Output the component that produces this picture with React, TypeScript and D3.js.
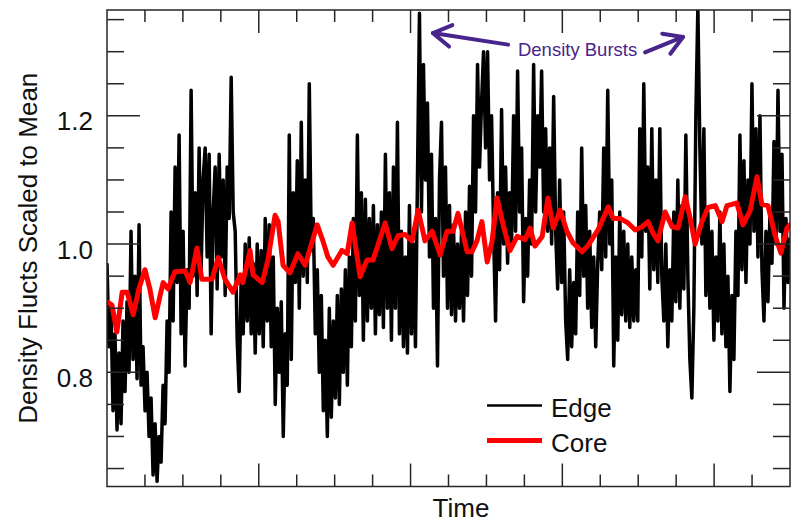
import React from "react";
import * as d3 from "d3";

// Edge density fluctuations (evenly sampled over the time axis 0..18)
const edgeValues: number[] = [
  0.97, 0.84, 0.90, 0.74, 0.86, 0.71, 0.83, 0.72, 0.88, 0.77, 0.91,
  0.80, 1.02, 0.82, 0.95, 0.79, 1.03,
  0.78, 0.84, 0.74, 0.80, 0.70, 0.76, 0.64, 0.72, 0.63, 0.70,
  0.66, 0.78, 0.72, 0.88, 0.80, 1.05,
  0.88, 1.12, 0.94, 1.17,
  0.86, 1.02, 0.81, 0.96,
  0.90, 1.24, 0.95,
  1.08, 0.92, 1.15, 0.96, 1.10, 1.15, 0.98, 1.14, 0.86, 1.05,
  1.12, 0.93, 1.14, 0.98, 1.10, 0.92, 1.12, 1.04,
  1.26, 1.05, 1.02,
  0.85, 0.77, 0.95, 0.86,
  1.00, 0.88, 1.01, 0.86, 0.97,
  0.83, 1.00, 0.86, 0.99, 0.84,
  1.04, 0.88, 1.03, 0.84, 0.98,
  0.75, 0.90, 0.80, 0.91,
  0.70, 0.86, 0.78, 1.17, 0.82,
  1.08, 0.94, 1.13, 0.90, 1.19,
  0.95, 1.10, 0.94, 1.25, 0.99,
  1.04, 0.86, 0.96, 0.80, 0.92, 0.74,
  0.85, 0.70, 0.90, 0.73,
  0.88, 0.76, 0.92, 0.75, 0.93, 0.80, 0.96, 0.78, 0.98, 0.84,
  1.04, 0.88, 1.17, 0.92, 1.08,
  0.85, 1.07, 0.88, 1.04, 0.90,
  1.06, 0.86, 1.03, 0.89, 1.05,
  0.87, 1.14, 0.90, 1.08, 0.85,
  1.12, 0.90, 1.19, 0.86, 1.02,
  0.84, 0.98, 0.83, 1.06, 0.86, 1.00,
  0.84, 1.10, 1.36, 1.05, 1.28,
  1.10, 1.22, 0.98, 1.14,
  0.90, 1.04, 0.81, 1.10, 1.19,
  0.95, 1.12, 0.90, 1.06,
  0.89, 1.03, 0.88, 1.00, 0.90, 1.02,
  0.88, 1.05, 0.92, 1.09, 0.95,
  1.20, 1.05, 1.28, 1.12, 1.22, 1.30, 1.15, 1.30, 1.10, 1.20, 1.02,
  0.88, 1.08, 0.96, 1.21, 1.00, 1.12,
  0.97, 1.08, 1.00,
  1.20, 1.02, 1.27, 1.05, 1.15,
  0.91, 1.04, 0.95, 1.10, 1.00,
  1.28, 1.05, 1.20, 1.12, 1.27,
  1.05, 1.18, 1.02, 1.15, 1.00, 1.23, 1.02,
  0.93, 1.10, 0.94, 1.05, 0.88,
  0.82, 0.96, 0.84, 0.94, 0.86,
  1.05, 0.92, 1.15, 0.95, 1.06,
  0.90, 1.02, 0.87, 0.98, 0.84, 0.97,
  1.05, 0.96, 1.15, 0.98, 1.24, 1.00, 1.10,
  0.81, 0.98, 0.85, 1.05,
  0.89, 1.02, 0.88, 1.00, 0.87, 0.98, 0.88, 0.96,
  0.88, 1.18, 0.98, 1.25, 1.02, 1.12,
  0.93, 1.18, 0.96, 1.10, 0.94, 1.18, 0.95,
  0.88, 1.00, 0.84, 0.96, 0.88,
  1.05, 0.91, 1.10, 0.90, 1.06, 0.93, 1.17, 0.95,
  0.82, 0.76, 0.90,
  1.20, 1.37, 1.15,
  1.00, 1.18, 0.92, 1.05, 0.90, 1.02,
  0.85, 0.98, 0.88, 1.05, 0.86, 1.00, 0.84,
  0.95, 0.77, 0.92, 0.82, 1.02,
  0.92, 1.17, 0.96, 1.13, 0.94, 1.10,
  1.00, 1.25, 1.02, 1.18, 0.98, 1.20, 0.96,
  0.88, 1.02, 0.91, 1.05,
  0.97, 1.16, 1.00, 1.24, 1.02, 1.14,
  0.90, 1.04, 0.94, 1.01,
];

// Core density fluctuations
const coreTime: number[] = [
  0.0, 0.13, 0.26, 0.4, 0.53, 0.69, 0.84, 1.0, 1.13, 1.27, 1.4, 1.48, 1.61, 1.79, 2.06, 2.19,
  2.37, 2.5, 2.77, 2.93, 3.11, 3.32, 3.51, 3.58, 3.77, 3.85, 4.09, 4.24, 4.43, 4.51, 4.64, 4.82,
  5.03, 5.22, 5.54, 5.69, 5.82, 5.96, 6.19, 6.33, 6.46, 6.67, 6.85, 7.01, 7.33, 7.51, 7.67, 7.85,
  8.04, 8.2, 8.38, 8.57, 8.78, 8.96, 9.12, 9.25, 9.49, 9.62, 9.75, 9.88, 10.02, 10.15, 10.28, 10.44,
  10.62, 10.81, 11.02, 11.15, 11.28, 11.47, 11.62, 11.76, 11.94, 12.12, 12.28, 12.52, 12.68, 12.94,
  13.21, 13.34, 13.52, 13.73, 13.92, 14.1, 14.26, 14.39, 14.52, 14.71, 14.89, 15.05, 15.24, 15.37,
  15.5, 15.68, 15.84, 16.03, 16.21, 16.34, 16.47, 16.6, 16.76, 16.95, 17.13, 17.26, 17.42, 17.6,
  17.76, 17.92, 18.0,
];
const coreValues: number[] = [
  0.91, 0.905, 0.863, 0.925, 0.925, 0.89, 0.93, 0.96, 0.93, 0.885, 0.92, 0.94, 0.93, 0.957, 0.958, 0.94,
  0.994, 0.945, 0.945, 0.979, 0.945, 0.925, 0.952, 0.94, 0.99, 0.952, 0.94, 0.975, 1.045, 1.035, 0.967, 0.955,
  0.985, 0.967, 1.03, 1.005, 0.98, 0.967, 0.99, 0.985, 1.033, 0.949, 0.975, 0.975, 1.033, 0.993, 1.013, 1.015,
  1.005, 1.053, 1.005, 1.02, 0.983, 1.02, 1.02, 1.048, 0.988, 0.988, 1.005, 1.035, 0.972, 1.005, 1.072, 1.03,
  0.99, 1.012, 1.007, 1.025, 0.997, 1.012, 1.072, 1.025, 1.053, 1.02, 1.002, 0.988, 0.998, 1.022,
  1.058, 1.04, 1.04, 1.033, 1.022, 1.027, 1.035, 1.017, 1.005, 1.05, 1.027, 1.025, 1.074, 1.04,
  1.0, 1.035, 1.057, 1.06, 1.035, 1.06, 1.062, 1.064, 1.03, 1.052, 1.105, 1.062, 1.06, 1.015,
  0.986, 1.025, 1.03,
];

const yMajorTicks = [0.8, 1.0, 1.2];
const yMinorTicks = [0.65, 0.7, 0.75, 0.85, 0.9, 0.95, 1.05, 1.1, 1.15, 1.25, 1.3, 1.35];
const xMajorTicks = [4, 8, 12, 16];
const xMinorTicks = [1, 2, 3, 5, 6, 7, 9, 10, 11, 13, 14, 15, 17];
const legendLabels = ["Edge", "Core"];
const seriesColors = ["#000000", "#ff0000"];

const W = 792;
const H = 524;
const L = 107;
const R = 790;
const T = 10;
const B = 486.5;
const FONT = "'Liberation Sans', Arial, Helvetica, sans-serif";
const AXIS = "#262626";
const PURPLE = "#48258c";

export default function App() {
  const x = d3.scaleLinear().domain([0, 18]).range([L, R]);
  const y = d3.scaleLinear().domain([0.622, 1.365]).range([B, T]);
  const n = edgeValues.length;
  const edgePts: [number, number][] = edgeValues.map((v, i) => [(i * 18) / (n - 1), v]);
  const corePts: [number, number][] = coreValues.map((v, i) => [coreTime[i], v]);
  const line = d3
    .line<[number, number]>()
    .x((d) => x(d[0]))
    .y((d) => y(d[1]));

  const arrowHead = (x1: number, y1: number, x2: number, y2: number) => {
    const a = Math.atan2(y1 - y2, x1 - x2);
    const len = 21;
    const th = (31 * Math.PI) / 180;
    const p1 = [x2 + len * Math.cos(a + th), y2 + len * Math.sin(a + th)];
    const p2 = [x2 + len * Math.cos(a - th), y2 + len * Math.sin(a - th)];
    return `M${p1[0]},${p1[1]}L${x2},${y2}L${p2[0]},${p2[1]}`;
  };

  // annotation anchors in data coordinates
  const leftTail = [x(10.57), y(1.311)];
  const leftTip = [x(8.59), y(1.329)];
  const rightTail = [x(14.18), y(1.299)];
  const rightTip = [x(15.18), y(1.323)];

  return (
    <svg
      width={W}
      height={H}
      style={{ position: "absolute", left: 0, top: 0, background: "#fff" }}
      fontFamily={FONT}
    >
      <defs>
        <clipPath id="plotclip">
          <rect x={L} y={T} width={R - L} height={B - T} />
        </clipPath>
      </defs>
      <g clipPath="url(#plotclip)">
        <path d={line(edgePts) || ""} fill="none" stroke={seriesColors[0]} strokeWidth={3.5} strokeLinejoin="round" />
        <path d={line(corePts) || ""} fill="none" stroke={seriesColors[1]} strokeWidth={5} strokeLinejoin="round" strokeLinecap="round" />
      </g>

      {/* frame */}
      <rect x={L} y={T} width={R - L} height={B - T} fill="none" stroke={AXIS} strokeWidth={1.5} />

      {/* y ticks */}
      {yMajorTicks.map((v) => (
        <g key={"ym" + v}>
          <line x1={L} x2={L + 33} y1={y(v)} y2={y(v)} stroke={AXIS} strokeWidth={1.5} />
          <line x1={R} x2={R - 33} y1={y(v)} y2={y(v)} stroke={AXIS} strokeWidth={1.5} />
          <text x={93} y={y(v) + 14.5} fontSize={26} textAnchor="end" fill="#111">
            {v.toFixed(1)}
          </text>
        </g>
      ))}
      {yMinorTicks.map((v) => (
        <g key={"yn" + v}>
          <line x1={L} x2={L + 17} y1={y(v)} y2={y(v)} stroke={AXIS} strokeWidth={1.5} />
          <line x1={R} x2={R - 17} y1={y(v)} y2={y(v)} stroke={AXIS} strokeWidth={1.5} />
        </g>
      ))}
      {/* x ticks */}
      {xMajorTicks.map((t) => (
        <g key={"xm" + t}>
          <line x1={x(t)} x2={x(t)} y1={B} y2={B - 23} stroke={AXIS} strokeWidth={1.5} />
          <line x1={x(t)} x2={x(t)} y1={T} y2={T + 23} stroke={AXIS} strokeWidth={1.5} />
        </g>
      ))}
      {xMinorTicks.map((t) => (
        <g key={"xn" + t}>
          <line x1={x(t)} x2={x(t)} y1={B} y2={B - 12} stroke={AXIS} strokeWidth={1.5} />
          <line x1={x(t)} x2={x(t)} y1={T} y2={T + 12} stroke={AXIS} strokeWidth={1.5} />
        </g>
      ))}

      {/* axis titles */}
      <text x={461} y={517} fontSize={26} textAnchor="middle" fill="#111">
        Time
      </text>
      <text
        transform={`translate(37,${(T + B) / 2}) rotate(-90)`}
        fontSize={26}
        textAnchor="middle"
        fill="#111"
      >
        Density Flucts Scaled to Mean
      </text>

      {/* legend */}
      {legendLabels.map((lab, i) => (
        <g key={lab}>
          <line
            x1={487}
            x2={542}
            y1={405.5 + i * 35}
            y2={405.5 + i * 35}
            stroke={seriesColors[i]}
            strokeWidth={i === 0 ? 2.5 : 5}
          />
          <text x={551} y={416.5 + i * 35} fontSize={26} fill="#111">
            {lab}
          </text>
        </g>
      ))}

      {/* annotation */}
      <g stroke={PURPLE} strokeWidth={4} fill="none" strokeLinecap="round" strokeLinejoin="round">
        <line x1={leftTail[0]} y1={leftTail[1]} x2={leftTip[0]} y2={leftTip[1]} />
        <path d={arrowHead(leftTail[0], leftTail[1], leftTip[0], leftTip[1])} />
        <line x1={rightTail[0]} y1={rightTail[1]} x2={rightTip[0]} y2={rightTip[1]} />
        <path d={arrowHead(rightTail[0], rightTail[1], rightTip[0], rightTip[1])} />
      </g>
      <text x={x(10.83)} y={56} fontSize={18.5} fill={PURPLE}>
        Density Bursts
      </text>
    </svg>
  );
}
